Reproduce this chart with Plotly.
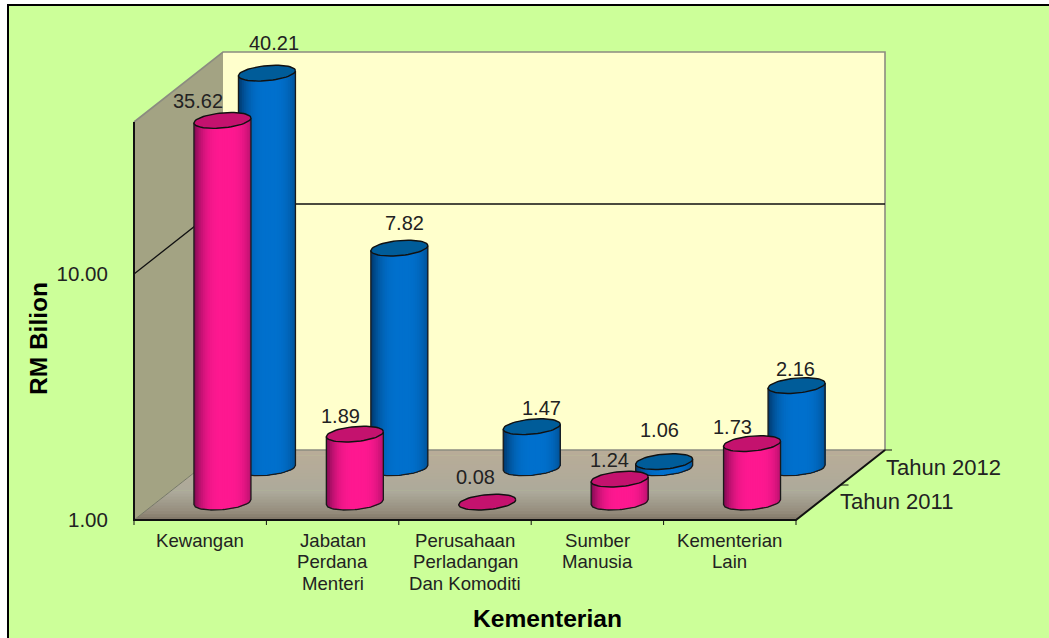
import numpy as np
import plotly.graph_objects as go

categories = ['Kewangan', 'Jabatan<br>Perdana<br>Menteri', 'Perusahaan<br>Perladangan<br>Dan Komoditi',
              'Sumber<br>Manusia', 'Kementerian<br>Lain']
tahun_2011 = [35.62, 1.89, 0.08, 1.24, 1.73]
tahun_2012 = [40.21, 7.82, 1.47, 1.06, 2.16]

# label offsets from the top of each cylinder, in px
shift_2011 = [(-24, 19), (-14, 18), (-12, 25), (-10, 19), (-20, 17)]
shift_2012 = [(7, 30), (5, 25), (10, 19), (-5, 32), (-1, 17)]

# layout of the fake 3d box, in px
LEFT, RIGHT, TOP, BOTTOM = 134, 885, 52, 520
PAD = 7  # plotly drops lines lying on the plot edge, so the box sits a bit inside
CAT_PX = 132.4
DECADE_PX = 246
DEPTH_X = 89 / CAT_PX
DEPTH_Y = 70 / DECADE_PX
WALL_TOP = 398 / DECADE_PX
RX = 28.5 / CAT_PX
RY = 7.5 / DECADE_PX
TILT = 2.5 / DECADE_PX

fig = go.Figure()


def pos(x, depth, level):
    # oblique projection onto the category / log axes
    return np.asarray(x) + np.asarray(depth) * DEPTH_X, 10 ** (np.asarray(level) + np.asarray(depth) * DEPTH_Y)


def add_poly(xs, ys, fill=None, line=None, width=0):
    fig.add_trace(go.Scatter(
        x=list(xs), y=list(ys), mode='lines', cliponaxis=False, showlegend=False, hoverinfo='skip',
        fill='toself' if fill else 'none', fillcolor=fill,
        line=dict(color=line if line else 'rgba(0,0,0,0)', width=width)
    ))


def mix(a, b, t):
    return 'rgb(%d,%d,%d)' % tuple(a[i] + (b[i] - a[i]) * t for i in range(3))


def add_cylinder(cat, row_x, row_y, value, edge, centre, cap):
    cx = cat + 0.5 + row_x * DEPTH_X
    base = row_y * DEPTH_Y
    top = base + max(np.log10(value), 0)

    def arc(s, level, sign):
        return 10 ** (level + sign * RY * np.sqrt(np.clip(1 - s ** 2, 0, 1)) + TILT * s)

    if top > base:
        steps = np.linspace(-1, 1, 33)
        # each strip runs to the right edge and the next paints over it, so no seams show
        for k in range(len(steps) - 1):
            s = steps[k:]
            shade = 1 - min(abs(s[0] + 1 / 32 - 0.1) / 1.1, 1) ** 3
            add_poly(np.r_[cx + RX * s, cx + RX * s[::-1]],
                     np.r_[arc(s, base, -1), arc(s[::-1], top, -1)],
                     fill=mix(edge, centre, shade))
        s = np.linspace(-1, 1, 41)
        add_poly(np.r_[cx - RX, cx + RX * s, cx + RX],
                 np.r_[arc(np.array([-1.0]), top, -1), arc(s, base, -1), arc(np.array([1.0]), top, -1)],
                 line='#1a1a1a', width=1.3)
    t = np.linspace(0, 2 * np.pi, 61)
    add_poly(cx + RX * np.cos(t), 10 ** (top + RY * np.sin(t) + TILT * np.cos(t)),
             fill=cap, line='#111111', width=1.4)
    return cx, top


# walls and floor
xs, ys = pos([0, 0, 0, 0], [0, 1, 1, 0], [0, 0, WALL_TOP, WALL_TOP])
add_poly(xs, ys, fill='#A3A383')
xs, ys = pos([0, 5, 5, 0], [1, 1, 1, 1], [0, 0, WALL_TOP, WALL_TOP])
add_poly(xs, ys, fill='#FFFFCC')

floor_stops = [(0.0, (128, 117, 102)), (0.12, (150, 142, 126)), (0.4, (173, 170, 155)), (1.0, (186, 173, 152))]
bands = np.linspace(0, 1, 25)
for d0, d1 in zip(bands[:-1], bands[1:]):
    m = (d0 + d1) / 2
    for (p0, c0), (p1, c1) in zip(floor_stops[:-1], floor_stops[1:]):
        if p0 <= m <= p1:
            colour = mix(c0, c1, (m - p0) / (p1 - p0))
    xs, ys = pos([0, 5, 5, 0], [d0, d0, min(d1 + 0.01, 1), min(d1 + 0.01, 1)], [0, 0, 0, 0])
    add_poly(xs, ys, fill=colour)

# box edges
xs, ys = pos([0, 0, 5, 5, 0], [0, 1, 1, 1, 1], [WALL_TOP, WALL_TOP, WALL_TOP, 0, 0])
add_poly(xs, ys, line='#8c8c80', width=1.6)
xs, ys = pos([0, 0], [0, 1], [0, 0])
add_poly(xs, ys, line='#77776a', width=1)
xs, ys = pos([0, 0, 5], [0, 1, 1], [1, 1, 1])
add_poly(xs, ys, line='#111111', width=1.3)
xs, ys = pos([0, 0, 5, 5], [0, 0, 0, 1], [WALL_TOP, 0, 0, 0])
add_poly(xs, ys, line='#111111', width=2)

# tick marks
for i in range(6):
    add_poly([i, i], [10 ** (-5 / DECADE_PX), 1], line='#111111', width=1)
for d in [0.5, 1]:
    xs, ys = pos([5, 5 + 8 / CAT_PX], [d, d], [0, 0])
    add_poly(xs, ys, line='#111111', width=1)

# cylinders, back row first
annotations = []
for i, v in enumerate(tahun_2012):
    cx, top = add_cylinder(i, 0.75, 0.745, v, (0, 55, 105), (0, 113, 206), '#005C99')
    annotations.append((cx, top, v, shift_2012[i]))
for i, v in enumerate(tahun_2011):
    cx, top = add_cylinder(i, 0.25, 0.255, v, (125, 10, 80), (255, 25, 145), '#C4126E')
    annotations.append((cx, top, v, shift_2011[i]))

for cx, top, v, (sx, sy) in annotations:
    # annotation y on a log axis is given as the log of the value
    fig.add_annotation(x=cx, y=top, text='%.2f' % v, showarrow=False, xshift=sx, yshift=sy,
                       xanchor='center', yanchor='middle', font=dict(size=20, color='#222222'))


def paper_x(px):
    return (px - (LEFT - PAD)) / (RIGHT - LEFT + 2 * PAD)


def paper_y(px):
    return (BOTTOM + PAD - px) / (BOTTOM - TOP + 2 * PAD)


# category labels line by line, plotly's tick labels have too wide a line spacing
for i, label in enumerate(categories):
    for j, text in enumerate(label.split('<br>')):
        fig.add_annotation(x=i + 0.5, xref='x', yref='paper', y=paper_y(540 + 21.7 * j), text=text, showarrow=False,
                           xanchor='center', yanchor='middle', font=dict(size=18.6, color='#222222'))

fig.add_annotation(xref='paper', yref='paper', x=paper_x(884), y=paper_y(467), text='Tahun 2012', showarrow=False,
                   xanchor='left', yanchor='middle', font=dict(size=22, color='#222222'))
fig.add_annotation(xref='paper', yref='paper', x=paper_x(838), y=paper_y(501), text='Tahun 2011', showarrow=False,
                   xanchor='left', yanchor='middle', font=dict(size=22, color='#222222'))
fig.add_annotation(xref='paper', yref='paper', x=paper_x(38), y=paper_y(339), text='<b>RM Bilion</b>', showarrow=False,
                   textangle=-90, xanchor='center', yanchor='middle', font=dict(size=24.5, color='#000000'))
fig.add_annotation(xref='paper', yref='paper', x=paper_x(547), y=paper_y(618), text='<b>Kementerian</b>', showarrow=False,
                   xanchor='center', yanchor='middle', font=dict(size=24.6, color='#000000'))

# page background with the black frame on top and left
fig.add_shape(type='rect', xref='paper', yref='paper', layer='below',
              x0=paper_x(8), x1=paper_x(1100), y0=paper_y(700), y1=paper_y(5),
              fillcolor='#CCFF99', line=dict(color='#000000', width=2))

fig.update_layout(
    width=1049, height=638,
    margin=dict(l=LEFT - PAD, r=1049 - RIGHT - PAD, t=TOP - PAD, b=638 - BOTTOM - PAD, pad=0),
    paper_bgcolor='#FFFFFF',
    plot_bgcolor='rgba(0,0,0,0)',
    font=dict(family='Liberation Sans, Arial, sans-serif', color='#222222'),
    xaxis=dict(range=[-PAD / CAT_PX, (RIGHT - LEFT + PAD) / CAT_PX], showticklabels=False,
               showgrid=False, zeroline=False, showline=False, ticks=''),
    yaxis=dict(type='log', range=[-PAD / DECADE_PX, (BOTTOM - TOP + PAD) / DECADE_PX],
               tickvals=[1, 10], ticktext=['1.00', '10.00'],
               showgrid=False, zeroline=False, showline=False, ticks='outside', ticklen=14,
               tickcolor='rgba(0,0,0,0)', tickfont=dict(size=20.5, color='#222222')),
)

# the browser's default body margin would push the figure 8px off
fig.write_html("out.html", config={'displayModeBar': False}, post_script="document.body.style.margin='0';")
